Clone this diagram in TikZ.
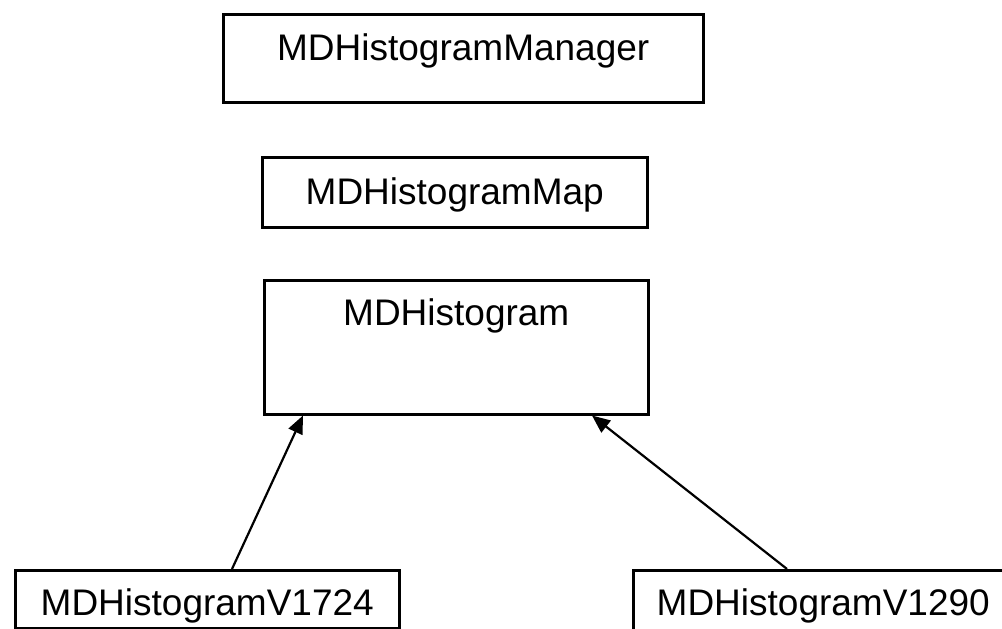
\documentclass[tikz,border=0pt]{standalone}
\usepackage{fontspec}
\setmainfont{Liberation Sans}
\usetikzlibrary{arrows.meta,calc}
\begin{document}
\begin{tikzpicture}[x=1pt,y=-1pt,
  box/.style={draw, line width=2.5pt, inner sep=0pt, anchor=north west,
    font=\fontsize{37}{44}\selectfont},
  conn/.style={line width=2.2pt, -{Triangle[length=18pt,width=15pt]}}]
\clip (0,0) rectangle (1002,629);
\node[box, minimum width=480pt, text height=46pt, text depth=42pt] (mgr) at (222,13) {MDHistogramManager};
\node[box, minimum width=385pt, text height=47pt, text depth=23pt] (map) at (261,156) {MDHistogramMap};
\node[box, minimum width=384pt, text height=45pt, text depth=89pt] (hist) at (263,279) {MDHistogram};
\node[box, minimum width=384pt, text height=45pt, text depth=13pt] (v1724) at (14,569) {MDHistogramV1724};
\node[box, minimum width=380pt, text height=45pt, text depth=19pt] (v1290) at (632,569) {MDHistogramV1290};
\draw[conn] ($(v1724.north west)+(218,0)$) -- ($(hist.south west)+(40,0)$);
\draw[conn] ($(v1290.north west)+(155,0)$) -- ($(hist.south west)+(329,0)$);
\end{tikzpicture}
\end{document}
